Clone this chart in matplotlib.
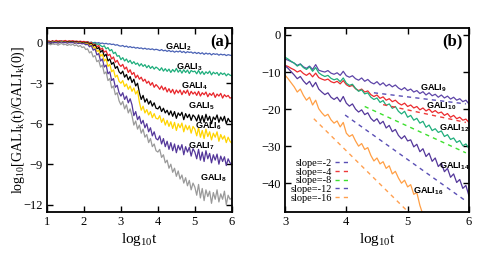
import numpy as np
import matplotlib
matplotlib.use("Agg")
import matplotlib.pyplot as plt

plt.rcParams['font.family'] = 'Liberation Serif'
plt.rcParams['mathtext.fontset'] = 'custom'
plt.rcParams['mathtext.rm'] = 'Liberation Serif'
plt.rcParams['mathtext.it'] = 'Liberation Serif:italic'
plt.rcParams['mathtext.bf'] = 'Liberation Sans:bold'

# ---- panel (a): log10 t from 1 to 6, step 0.05
xa = np.round(np.arange(1.0, 6.001, 0.05), 2)

gali2 = [0.05, 0.08, 0.06, 0.1, 0.07, 0.09, 0.05, 0.08, 0.1, 0.06, 0.08, 0.05, 0.07, 0.09, 0.06, 0.08, 0.05, 0.07, 0.04, 0.06,
         0.05, 0.03, 0.06, 0.02, 0.04, 0.0, 0.03, -0.02, 0.01, -0.05, -0.02, -0.08, -0.04, -0.1, -0.07, -0.13, -0.1, -0.18, -0.14, -0.22,
         -0.25, -0.2, -0.3, -0.24, -0.34, -0.28, -0.36, -0.32, -0.4, -0.35, -0.42, -0.38, -0.46, -0.4, -0.48, -0.44, -0.5, -0.45, -0.53, -0.48,
         -0.52, -0.58, -0.5, -0.6, -0.55, -0.64, -0.56, -0.66, -0.6, -0.7, -0.62, -0.68, -0.6, -0.72, -0.64, -0.75, -0.66, -0.72, -0.68, -0.78,
         -0.7, -0.8, -0.72, -0.82, -0.74, -0.86, -0.76, -0.84, -0.78, -0.9, -0.8, -0.86, -0.82, -0.92, -0.84, -0.9, -0.86, -0.95, -0.88, -0.92, -0.95]
gali3 = [0.06, 0.09, 0.05, 0.1, 0.07, 0.11, 0.06, 0.09, 0.12, 0.07, 0.1, 0.06, 0.09, 0.11, 0.07, 0.1, 0.06, 0.09, 0.05, 0.08,
         0.06, 0.03, 0.07, 0.0, 0.04, -0.05, -0.02, -0.12, -0.08, -0.2, -0.3, -0.22, -0.45, -0.35, -0.6, -0.5, -0.8, -0.7, -1.0, -0.95,
         -1.25, -1.1, -1.35, -1.2, -1.45, -1.3, -1.55, -1.4, -1.6, -1.5, -1.72, -1.55, -1.75, -1.62, -1.85, -1.68, -1.9, -1.75, -1.95, -1.8,
         -1.9, -2.05, -1.85, -2.1, -1.92, -2.12, -1.95, -2.2, -1.98, -2.15, -1.9, -2.18, -2.0, -2.25, -2.0, -2.2, -2.02, -2.28, -2.05, -2.15,
         -2.1, -2.3, -2.05, -2.32, -2.12, -2.35, -2.15, -2.28, -2.1, -2.38, -2.18, -2.3, -2.2, -2.42, -2.22, -2.35, -2.25, -2.45, -2.3, -2.4, -2.45]
gali4 = [0.1, 0.14, 0.08, 0.15, 0.1, 0.18, 0.12, 0.16, 0.1, 0.14, 0.17, 0.1, 0.15, 0.12, 0.16, 0.1, 0.13, 0.09, 0.12, 0.08,
         0.1, 0.05, 0.08, -0.05, 0.02, -0.15, -0.1, -0.3, -0.2, -0.5, -0.4, -0.7, -0.6, -0.95, -0.85, -1.2, -1.05, -1.45, -1.3, -1.6,
         -1.75, -1.6, -1.95, -1.8, -2.2, -2.0, -2.35, -2.2, -2.6, -2.4, -2.7, -2.55, -2.85, -2.7, -3.0, -2.85, -3.15, -2.95, -3.3, -3.1,
         -3.25, -3.45, -3.2, -3.5, -3.3, -3.65, -3.4, -3.7, -3.45, -3.8, -3.5, -3.72, -3.5, -3.85, -3.55, -3.75, -3.5, -3.9, -3.6, -3.8,
         -3.65, -3.9, -3.6, -3.95, -3.7, -3.85, -3.65, -4.0, -3.75, -3.9, -3.7, -4.05, -3.8, -3.95, -3.75, -4.1, -3.85, -4.0, -3.9, -4.1, -4.05]
gali5 = [0.05, 0.1, 0.04, 0.12, 0.06, 0.1, 0.03, 0.08, 0.11, 0.05, 0.09, 0.04, 0.1, 0.06, 0.08, 0.03, 0.07, 0.02, 0.05, 0.0,
         0.03, -0.05, 0.0, -0.12, -0.05, -0.25, -0.15, -0.45, -0.35, -0.7, -0.55, -1.0, -0.85, -1.35, -1.2, -1.6, -1.45, -1.9, -1.75, -2.15,
         -2.3, -2.1, -2.55, -2.35, -2.75, -2.5, -2.95, -2.7, -3.2, -3.0, -3.7, -4.2, -3.9, -4.4, -4.15, -4.55, -4.3, -4.7, -4.45, -4.85,
         -4.9, -4.7, -5.1, -4.85, -5.2, -5.0, -5.35, -5.05, -5.45, -5.1, -5.6, -5.2, -5.4, -5.15, -5.7, -5.25, -5.55, -5.3, -5.75, -5.35,
         -5.5, -5.8, -5.35, -5.85, -5.4, -5.9, -5.3, -5.75, -5.45, -6.0, -5.5, -5.7, -5.35, -5.9, -5.5, -5.8, -5.45, -6.0, -5.6, -5.85, -5.8]
gali6 = [0.02, 0.06, 0.0, 0.08, 0.03, 0.07, 0.0, 0.05, 0.08, 0.02, 0.06, 0.0, 0.05, 0.02, 0.04, -0.02, 0.03, -0.03, 0.0, -0.05,
         -0.02, -0.1, -0.05, -0.2, -0.12, -0.4, -0.3, -0.65, -0.55, -1.0, -0.85, -1.35, -1.2, -1.75, -1.6, -2.15, -2.0, -2.55, -2.4, -2.85,
         -3.0, -2.8, -3.25, -3.05, -3.45, -3.2, -3.6, -3.35, -3.8, -3.55, -4.4, -5.0, -4.7, -5.2, -4.95, -5.35, -5.1, -5.55, -5.25, -5.6,
         -5.65, -5.4, -5.9, -5.6, -6.1, -5.75, -6.2, -5.85, -6.35, -5.9, -6.5, -6.0, -6.3, -5.95, -6.6, -6.1, -6.45, -6.15, -6.7, -6.2,
         -6.4, -6.9, -6.3, -7.0, -6.5, -7.1, -6.4, -6.95, -6.6, -7.2, -6.7, -7.0, -6.6, -7.3, -6.8, -7.15, -6.9, -7.4, -7.0, -7.3, -7.45]
gali7 = [0.0, 0.05, -0.02, 0.06, 0.0, 0.04, -0.03, 0.03, 0.06, -0.01, 0.04, -0.03, 0.02, 0.0, 0.03, -0.04, 0.0, -0.06, -0.02, -0.08,
         -0.05, -0.15, -0.1, -0.3, -0.2, -0.55, -0.45, -0.9, -0.8, -1.35, -1.2, -1.8, -1.65, -2.3, -2.15, -2.8, -2.65, -3.3, -3.15, -3.7,
         -3.95, -3.7, -4.2, -3.95, -4.45, -4.15, -4.6, -5.4, -5.1, -5.7, -5.45, -6.0, -5.75, -6.3, -6.0, -6.6, -6.3, -6.9, -6.6, -7.1,
         -7.2, -6.9, -7.5, -7.1, -7.7, -7.3, -7.9, -7.4, -8.0, -7.5, -8.15, -7.6, -7.95, -7.55, -8.3, -7.7, -8.1, -7.75, -8.4, -7.85,
         -8.1, -8.6, -7.9, -8.7, -8.1, -8.8, -8.0, -8.6, -8.2, -8.9, -8.3, -8.7, -8.25, -9.0, -8.4, -8.8, -8.45, -9.1, -8.6, -8.9, -9.0]
gali8 = [-0.1, -0.05, -0.15, -0.05, -0.12, -0.08, -0.18, -0.1, -0.05, -0.15, -0.1, -0.2, -0.12, -0.18, -0.1, -0.22, -0.15, -0.28, -0.2, -0.35,
         -0.3, -0.5, -0.45, -0.75, -0.65, -1.05, -0.95, -1.4, -1.3, -1.8, -1.65, -2.3, -2.15, -2.8, -2.65, -3.35, -3.2, -3.85, -3.7, -4.3,
         -4.6, -4.35, -4.9, -4.6, -5.2, -4.9, -5.4, -6.1, -5.8, -6.4, -6.1, -6.7, -6.4, -7.0, -6.8, -7.4, -7.1, -7.7, -7.5, -8.0,
         -8.1, -7.9, -8.5, -8.3, -8.9, -8.7, -9.3, -9.0, -9.6, -9.3, -9.9, -9.5, -10.1, -9.8, -10.4, -10.0, -10.6, -10.2, -10.9, -10.4,
         -10.7, -11.3, -10.5, -11.5, -10.8, -11.7, -10.9, -11.4, -11.0, -11.9, -11.1, -11.6, -10.9, -11.8, -11.2, -11.6, -11.0, -12.0, -11.3, -11.6, -11.5]

a_series = [gali2, gali3, gali4, gali5, gali6, gali7, gali8]
a_names = ['2', '3', '4', '5', '6', '7', '8']
a_colors = ['#4a62b5', '#1fae7c', '#e8262b', '#000000', '#ffd400', '#54379a', '#9a9a9a']
a_label_x = [4.2, 4.5, 4.63, 4.81, 5.0, 4.81, 5.13]
a_label_y = [-0.35, -1.8, -3.2, -4.75, -6.2, -7.7, -10.05]

# ---- panel (b): log10 t from 3 to 6, step 0.05
xb = np.round(np.arange(3.0, 6.001, 0.05), 2)

gali9 = [-6.5, -6.8, -7.2, -7.6, -8.2, -7.8, -8.6, -9.0, -8.4, -9.3, -8.0, -9.5, -9.8, -10.0, -9.6, -10.3, -10.6, -10.2, -10.9, -9.8,
         -11.0, -11.4, -11.0, -11.8, -12.2, -11.6, -12.5, -12.0, -12.8, -13.2, -12.6, -13.5, -12.9, -13.8, -13.3, -14.0, -13.5, -14.3, -14.8, -14.2,
         -15.0, -14.6, -15.4, -15.0, -15.8, -15.3, -16.2, -15.6, -16.4, -16.0, -16.8, -16.2, -17.0, -16.5, -17.3, -16.8, -17.6, -17.2, -18.0, -17.6, -18.6]
gali10 = [-8.2, -8.5, -9.0, -9.4, -10.0, -9.6, -10.4, -10.9, -10.3, -11.3, -10.3, -11.5, -11.9, -12.2, -11.9, -12.6, -12.9, -12.5, -13.2, -12.3,
          -13.4, -13.9, -13.6, -14.5, -15.0, -14.6, -15.4, -15.1, -16.1, -16.6, -16.2, -17.1, -16.7, -17.6, -17.2, -18.0, -17.6, -18.4, -18.9, -18.4,
          -19.3, -18.9, -19.7, -19.3, -20.2, -19.7, -20.5, -20.0, -20.9, -20.4, -21.1, -20.8, -21.7, -21.2, -22.2, -21.7, -22.6, -22.2, -23.0, -22.7, -23.6]
gali12 = [-6.0, -6.5, -7.1, -7.6, -8.4, -7.9, -8.8, -9.3, -8.6, -9.8, -8.8, -10.2, -10.8, -11.2, -10.9, -11.7, -12.1, -11.8, -12.6, -11.6,
          -13.0, -13.6, -13.3, -14.4, -15.2, -14.8, -15.9, -15.6, -16.8, -17.4, -17.0, -18.2, -17.7, -19.0, -18.6, -19.8, -19.3, -20.6, -21.3, -20.6,
          -22.2, -21.7, -23.0, -22.5, -23.8, -23.3, -24.9, -24.3, -25.8, -25.3, -26.3, -25.9, -27.4, -26.9, -28.2, -27.8, -29.0, -28.5, -29.9, -29.4, -30.6]
gali14 = [-8.3, -9.0, -9.9, -10.8, -11.8, -11.2, -12.4, -13.3, -12.5, -14.0, -12.8, -14.6, -15.4, -16.1, -15.6, -16.8, -17.4, -16.8, -18.0, -16.6,
          -18.4, -19.2, -18.6, -20.0, -20.8, -20.2, -21.5, -21.0, -22.5, -23.3, -22.6, -24.0, -23.3, -25.1, -24.4, -26.1, -25.5, -27.1, -28.0, -27.2,
          -28.6, -28.3, -30.2, -29.5, -31.5, -30.7, -32.8, -31.9, -34.1, -33.2, -35.5, -34.6, -36.9, -36.0, -38.4, -37.5, -39.8, -39.0, -41.4, -40.6, -43.4]
gali16 = [-10.8, -11.8, -12.9, -14.0, -15.4, -14.6, -16.3, -17.6, -16.8, -18.9, -17.6, -19.9, -21.0, -21.9, -21.4, -22.9, -23.8, -23.2, -24.8, -23.6,
          -26.5, -27.4, -26.9, -28.6, -30.0, -29.3, -30.9, -30.4, -32.5, -34.0, -33.2, -34.8, -34.2, -36.0, -35.3, -37.5, -36.8, -38.6, -40.0, -39.2,
          -41.0, -40.4, -43.0, -42.5, -46.0, -48.5]

b_series = [gali9, gali10, gali12, gali14, gali16]
b_names = ['9', '10', '12', '14', '16']
b_colors = ['#5e45a8', '#ec2a2e', '#1fae7c', '#54379a', '#ff9f45']
b_label_x = [5.2, 5.3, 5.51, 5.51, 5.09]
b_label_y = [-14.4, -19.4, -25.2, -35.5, -42.1]

# fitted power-law guides (endpoints)
slopes = ['-2', '-4', '-8', '-12', '-16']
slope_x0 = [4.45, 4.6, 4.3, 3.98, 3.47]
slope_x1 = [5.95, 5.95, 5.95, 5.95, 5.0]
slope_y0 = [-15.6, -18.8, -19.3, -21.6, -22.6]
slope_y1 = [-18.6, -23.6, -31.8, -44.8, -47.6]
slope_colors = ['#5a4fb5', '#ee3a3a', '#3de02e', '#5a4fb5', '#ffa050']

fig = plt.figure(figsize=(4.79, 2.54), dpi=100)
ax1 = fig.add_axes([0.098, 0.165, 0.386, 0.725])
ax2 = fig.add_axes([0.595, 0.165, 0.384, 0.725])

for ax in (ax1, ax2):
    ax.tick_params(direction='in', length=4, width=1, top=True, right=True,
                   labelsize=9, pad=3)
    for s in ax.spines.values():
        s.set_linewidth(1.3)

for vals, col in zip(a_series, a_colors):
    ax1.plot(xa, vals, color=col, lw=0.9)
for nm, lx, ly in zip(a_names, a_label_x, a_label_y):
    ax1.text(lx, ly, 'GALI$_{\\mathbf{%s}}$' % nm, fontsize=6.5, fontweight='bold',
             family='Liberation Sans', va='center', ha='left')
ax1.text(5.93, 0.0, '(a)', fontsize=12, fontweight='bold', ha='right', va='center')
ax1.set_xlim(1, 6)
ax1.set_ylim(-12.55, 1.1)
ax1.set_xticks([1, 2, 3, 4, 5, 6])
ax1.set_yticks([0, -3, -6, -9, -12])
ax1.set_xlabel('log$_{10}$t', fontsize=11, labelpad=2)
ax1.set_ylabel('log$_{10}$[GALI$_{\\mathrm{k}}$(t)/GALI$_{\\mathrm{k}}$(0)]', fontsize=10)
ax1.yaxis.set_label_coords(-0.108, 0.5)

for vals, col in zip(b_series, b_colors):
    ax2.plot(xb[:len(vals)], vals, color=col, lw=0.9)
for sl, x0, x1, y0, y1, col in zip(slopes, slope_x0, slope_x1, slope_y0, slope_y1, slope_colors):
    ax2.plot([x0, x1], [y0, y1], color=col, lw=1.0, dashes=(3, 3),
             label='slope=' + sl)
for nm, lx, ly in zip(b_names, b_label_x, b_label_y):
    ax2.text(lx, ly, 'GALI$_{\\mathbf{%s}}$' % nm, fontsize=6.5, fontweight='bold',
             family='Liberation Sans', va='center', ha='left')
ax2.text(5.9, -1.8, '(b)', fontsize=12, fontweight='bold', ha='right', va='center')
ax2.set_xlim(3, 6)
ax2.set_ylim(-47.8, 1.9)
ax2.set_xticks([3, 4, 5, 6])
ax2.set_yticks([0, -10, -20, -30, -40])
ax2.set_xlabel('log$_{10}$t', fontsize=11, labelpad=2)
ax2.legend(loc='lower left', bbox_to_anchor=(0.03, 0.05), fontsize=7.5, frameon=False,
           markerfirst=False, handlelength=1.2, handletextpad=0.3, labelspacing=-0.05,
           borderpad=0.0, borderaxespad=0.0)

fig.savefig('out.png', dpi=100)
